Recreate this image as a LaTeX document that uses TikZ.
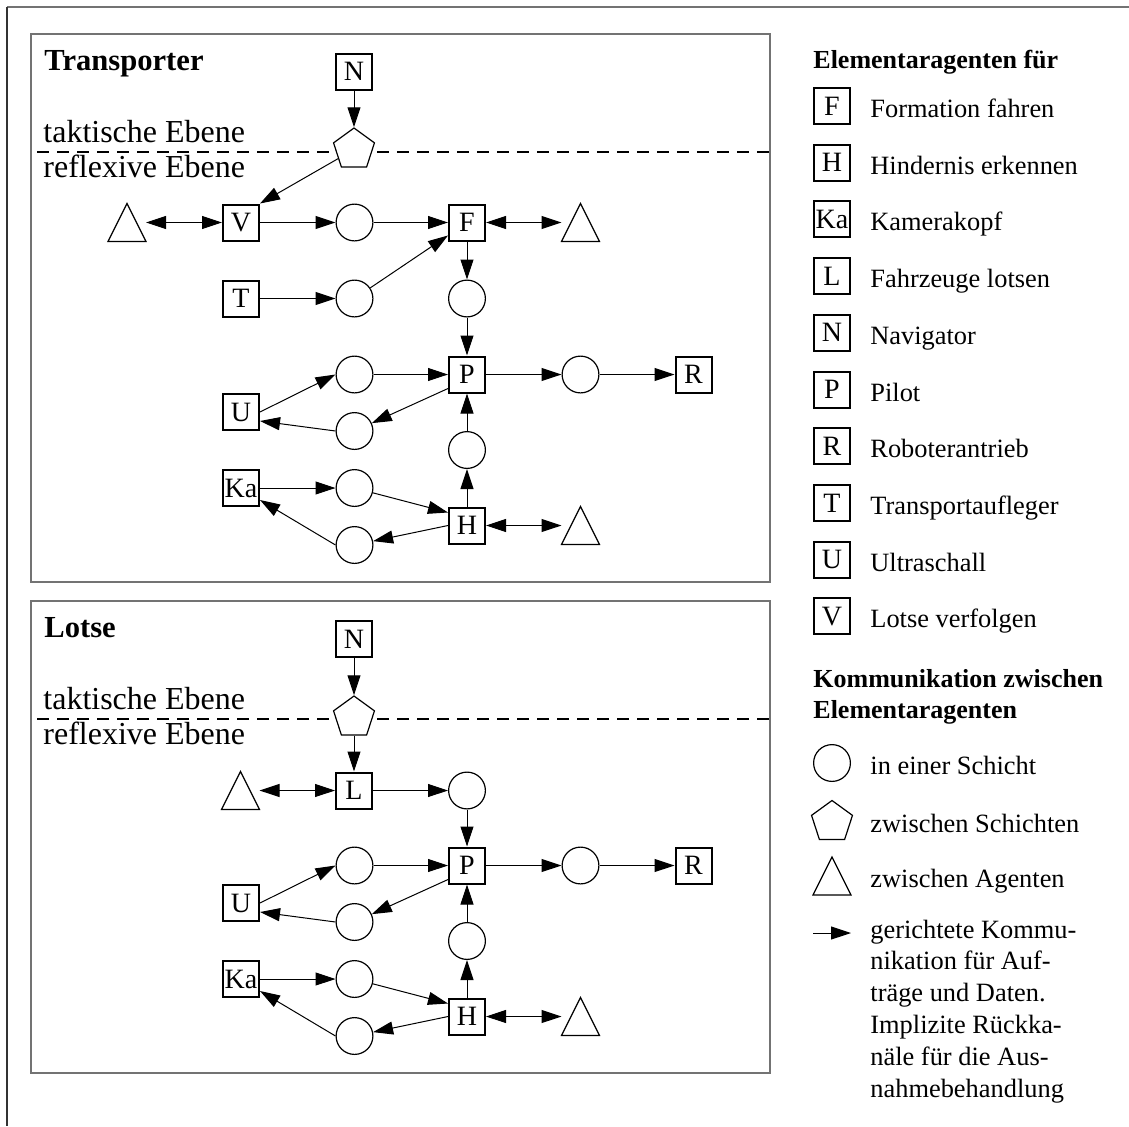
\documentclass[tikz,border=0pt]{standalone}
\usepackage{fontspec}
\setmainfont{Liberation Serif}
\usetikzlibrary{arrows.meta,shapes.geometric}

% type sizes (coordinates are in px, 1px = 0.5pt)
\newcommand\agfont{\fontsize{14}{17}\selectfont}
\newcommand\legfont{\fontsize{13.2}{16}\selectfont}
\newcommand\hdfont{\fontsize{13}{16}\selectfont\bfseries}
\newcommand\lvlfont{\fontsize{16}{19}\selectfont}
\newcommand\ttlfont{\fontsize{15.3}{18}\selectfont\bfseries}

\begin{document}
\begin{tikzpicture}[x=0.5pt,y=-0.5pt,
  frame/.style={draw=black!55, line width=1pt},
  agent/.style={draw, line width=1pt, minimum size=18pt, inner sep=0pt, fill=white, font=\agfont},
  chan/.style={circle, draw, line width=0.6pt, minimum size=18.4pt, inner sep=0pt, fill=white},
  layer/.style={regular polygon, regular polygon sides=5, draw, line width=0.6pt, minimum size=21.5pt, inner sep=0pt, fill=white},
  peer/.style={rectangle, minimum size=19pt, inner sep=0pt, outer sep=0pt},
  conn/.style={line width=0.5pt, -{Triangle[length=10pt,width=6.5pt]}},
  bidir/.style={line width=0.5pt, {Triangle[length=10pt,width=6.5pt]}-{Triangle[length=10pt,width=6.5pt]}},
  lvl/.style={anchor=base west, font=\lvlfont, inner sep=0pt},
  ttl/.style={anchor=base west, font=\ttlfont, inner sep=0pt},
  legtxt/.style={anchor=base west, font=\legfont, inner sep=0pt},
  leghead/.style={anchor=base west, font=\hdfont, inner sep=0pt},
  levelsplit/.style={dash pattern=on 6pt off 4pt, line width=1pt}
]
\useasboundingbox (0,0) rectangle (1129,1126);

% page frame
\draw[black!55, line width=1pt] (7,7) -- (1129,7);
\draw[black!80, line width=0.6pt] (7,7) -- (7,1126);

% agent frames
\draw[frame] (31,34) rectangle (770,582);
\draw[frame] (31,601) rectangle (770,1073);

% border between tactical and reflexive level
\draw[levelsplit] (37,152) -- (770,152);
\draw[levelsplit] (37,719) -- (770,719);

% titles and level names
\node[ttl] (ttlTrans) at (44,70) {Transporter};
\node[lvl] (tTak) at (43,142) {taktische Ebene};
\node[lvl] (tRef) at (43,177) {reflexive Ebene};
\node[ttl] (ttlLotse) at (44,637) {Lotse};
\node[lvl] (lTak) at (43,709) {taktische Ebene};
\node[lvl] (lRef) at (43,744) {reflexive Ebene};

% Transporter: upper part
\node[agent] (tN) at (354,71.5) {N};
\node[layer] (tPent) at (354,149.5) {};
\node[agent] (tV) at (241,222.5) {V};
\node[peer] (tpV) at (127,222.5) {};
\node[chan] (tcVF) at (354.5,222.5) {};
\node[agent] (tF) at (467,222.5) {F};
\node[peer] (tpF) at (580.5,222.5) {};
\node[chan] (tcFP) at (467,298.5) {};
\node[agent] (tT) at (241,298.5) {T};
\node[chan] (tcTF) at (354.5,298.5) {};

% Lotse: upper part
\node[agent] (lN) at (354,639) {N};
\node[layer] (lPent) at (354,717.5) {};
\node[agent] (lLo) at (354,790.5) {L};
\node[peer] (lpL) at (240.5,790.5) {};
\node[chan] (lcLP) at (467,790.5) {};

% common part: pilot, drive, ultrasound, camera head, obstacle detection
\foreach \p/\dy in {t/0, l/491} {
  \node[agent] (\p P) at (467,374.5+\dy) {P};
  \node[agent] (\p R) at (693.5,374.5+\dy) {R};
  \node[agent] (\p U) at (241,412+\dy) {U};
  \node[agent] (\p Ka) at (241,488+\dy) {Ka};
  \node[agent] (\p H) at (467,525.5+\dy) {H};
  \node[chan] (\p cUP) at (354.5,374.5+\dy) {};
  \node[chan] (\p cPU) at (354.5,431+\dy) {};
  \node[chan] (\p cPR) at (580.5,374.5+\dy) {};
  \node[chan] (\p cHP) at (467,450+\dy) {};
  \node[chan] (\p cKH) at (354.5,488+\dy) {};
  \node[chan] (\p cHK) at (354.5,545+\dy) {};
  \node[peer] (\p pH) at (580.5,525.5+\dy) {};
  \draw[conn] (\p U.east) -- (\p cUP.west);
  \draw[conn] (\p cUP) -- (\p P);
  \draw[conn] ([yshift=-7pt]\p P.west) -- (\p cPU);
  \draw[conn] (\p cPU.west) -- ([yshift=-4.5pt]\p U.east);
  \draw[conn] (\p P) -- (\p cPR);
  \draw[conn] (\p cPR) -- (\p R);
  \draw[conn] (\p H) -- (\p cHP);
  \draw[conn] (\p cHP) -- (\p P);
  \draw[conn] (\p Ka) -- (\p cKH);
  \draw[conn] (\p cKH) -- ([yshift=-3pt]\p H.north west);
  \draw[conn] (\p H.west) -- (\p cHK);
  \draw[conn] (\p cHK.west) -- ([yshift=3.5pt]\p Ka.south east);
  \draw[bidir] (\p H) -- (\p pH);
}

% Transporter: upper connectors
\draw[conn] (tN) -- (tPent);
\draw[conn] (tPent) -- (tV.north east);
\draw[bidir] (tpV) -- (tV);
\draw[conn] (tV) -- (tcVF);
\draw[conn] (tcVF) -- (tF);
\draw[bidir] (tF) -- (tpF);
\draw[conn] (tF) -- (tcFP);
\draw[conn] (tcFP) -- (tP);
\draw[conn] (tT) -- (tcTF);
\draw[conn] (tcTF) -- ([yshift=3pt]tF.south west);

% Lotse: upper connectors
\draw[conn] (lN) -- (lPent);
\draw[conn] (lPent) -- (lLo);
\draw[bidir] (lpL) -- (lLo);
\draw[conn] (lLo) -- (lcLP);
\draw[conn] (lcLP) -- (lP);

% legend: elementary agents
\node[leghead] (hAg) at (813,68) {Elementaragenten für};
\foreach \k/\txt [count=\i from 0] in {F/Formation fahren, H/Hindernis erkennen,
    Ka/Kamerakopf, L/Fahrzeuge lotsen, N/Navigator, P/Pilot, R/Roboterantrieb,
    T/Transportaufleger, U/Ultraschall, V/Lotse verfolgen} {
  \node[agent] (key\i) at (832,106+56.7*\i) {\k};
  \node[legtxt] (keytxt\i) at (870,117.5+56.7*\i) {\txt};
}

% legend: communication
\node[leghead] (hKom1) at (813,687) {Kommunikation zwischen};
\node[leghead] (hKom2) at (813,718) {Elementaragenten};
\node[chan] (kC) at (832,763) {};
\node[legtxt] (kCtxt) at (870,774.5) {in einer Schicht};
\node[layer] (kPent) at (832,822) {};
\node[legtxt] (kPtxt) at (870,832) {zwischen Schichten};
\node[peer] (kTri) at (832,876) {};
\node[legtxt] (kTtxt) at (870,887.5) {zwischen Agenten};
\coordinate (kA) at (813,933);
\coordinate (kB) at (851,933);
\draw[conn] (kA) -- (kB);
\foreach \ln [count=\i from 0] in {gerichtete Kommu-, nikation für Auf-,
    träge und Daten., Implizite Rückka-, näle für die Aus-, nahmebehandlung} {
  \node[legtxt] (kLine\i) at (870,938+31.8*\i) {\ln};
}

% triangles marking communication between agents
\foreach \n in {tpV, tpF, tpH, lpL, lpH, kTri} {
  \draw[line width=0.6pt, fill=white] (\n.south west) -- (\n.north) -- (\n.south east) -- cycle;
}
\end{tikzpicture}
\end{document}
